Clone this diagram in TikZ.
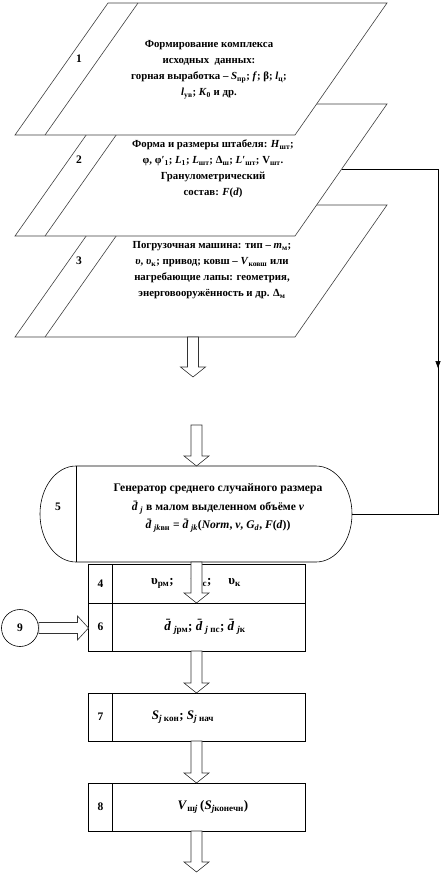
\documentclass[tikz,border=0pt]{standalone}
\usepackage{fontspec}
\setmainfont{Liberation Serif}
\usetikzlibrary{calc,arrows.meta,decorations.markings}

\tikzset{
  para/.style={draw=black!75, fill=white, line width=0.6pt},
  blk/.style={draw, fill=white, line width=0.6pt, minimum width=216.5pt, outer sep=0pt, inner sep=0pt},
  txt/.style={font=\fontsize{10.8}{16}\selectfont\bfseries, align=center, inner sep=0pt},
  numtxt/.style={font=\fontsize{11.5}{13}\selectfont\bfseries, inner sep=0pt},
  fatarrow/.style={draw=black!80, fill=white, line width=0.6pt, line join=miter},
  midtip/.style={postaction={decorate}, decoration={markings,
      mark=at position 0.56 with {\arrow{Triangle[length=7pt,width=5pt]}}}}
}

\newcommand{\sub}[1]{\textsubscript{#1}}
\newcommand{\iv}[1]{\textit{#1}}
\newcommand{\dbar}{\textit{\={d}}}

% hollow arrow, straight down from #1 to #2
\newcommand{\fatdown}[2]{%
  \draw[fatarrow] let \p1=(#1), \p2=(#2) in
    (\x1-5.5pt,\y1) -- (\x1-5.5pt,\y2+10pt) -- (\x1-12.5pt,\y2+10pt) -- (\x1,\y2)
    -- (\x1+12.5pt,\y2+10pt) -- (\x1+5.5pt,\y2+10pt) -- (\x1+5.5pt,\y1) -- cycle;}
% hollow arrow, straight right from #1 to #2
\newcommand{\fatright}[2]{%
  \draw[fatarrow] let \p1=(#1), \p2=(#2) in
    (\x1,\y1+5.5pt) -- (\x2-11pt,\y1+5.5pt) -- (\x2-11pt,\y1+12pt) -- (\x2,\y1)
    -- (\x2-11pt,\y1-12pt) -- (\x2-11pt,\y1-5.5pt) -- (\x1,\y1-5.5pt) -- cycle;}
% numbered block: name, centre y, height, number, text x, text
\newcommand{\numblock}[6]{%
  \node[blk, minimum height=#3] (#1) at (196.75,#2) {};
  \draw[line width=0.6pt] ([xshift=24pt]#1.north west) -- ([xshift=24pt]#1.south west);
  \node[numtxt] at ([xshift=12pt]#1.west) {#4};
  \node[txt, font=\fontsize{13}{15}\selectfont\bfseries] (#1t) at (#5,#2) {#6};}

\begin{document}
\begin{tikzpicture}[x=1pt, y=-1pt]
\useasboundingbox (0,0) rectangle (445,873);

% --- Input data (parallelograms, back to front) ---
\foreach \T/\n in {205/3, 104/2, 3/1}
{
    \draw[para] (108,\T) -- (387,\T) -- (295,\T+132) -- (15,\T+132) -- cycle;
    \draw[draw=black!75, line width=0.6pt] (138,\T) -- (45,\T+132);
    \node[numtxt] (n\n) at (79,\T+56) {\n};
}
\coordinate (p2r) at (342,169);
\coordinate (p3s) at (193,337);

\node[txt] (t1) at (209,70) {Формирование комплекса\\
    исходных\ \ данных:\\
    горная выработка -- \iv{S}\sub{пр}; \iv{f}; β; \iv{l}\sub{ц};\\
    \iv{l}\sub{ув}; \iv{K}\sub{0} и др.};
\node[txt] (t2) at (213,169) {Форма и размеры штабеля: \iv{H}\sub{шт};\\
    φ, φ′\sub{1}; \iv{L}\sub{1}; \iv{L}\sub{шт}; Δ\sub{ш}; \iv{L}′\sub{шт}; V\sub{шт}.\\
    Гранулометрический\\
    состав: \iv{F}(\iv{d})};
\node[txt] (t3) at (212,270) {Погрузочная машина: тип -- \iv{m}\sub{м};\\
    \iv{υ}, \iv{υ}\sub{к}; привод; ковш -- \iv{V}\sub{ковш} или\\
    нагребающие лапы: геометрия,\\
    энерговооружённость и др. Δ\sub{м}};

% --- Generator (terminal 5) ---
\node[minimum width=312pt, minimum height=96pt, inner sep=0pt, outer sep=0pt] (gen) at (196,514) {};
\draw[line width=0.6pt, fill=white] (76,466) -- (316,466)
    arc[start angle=90, end angle=-90, x radius=36pt, y radius=48pt] -- (76,562)
    arc[start angle=270, end angle=90, x radius=36pt, y radius=48pt] -- cycle;
\draw[line width=0.6pt] (76,466) -- (76,562);
\node[numtxt] (n5) at (58,507) {5};
\node[txt, font=\fontsize{11.6}{18.5}\selectfont\bfseries] (t5) at (218,508)
    {Генератор среднего случайного размера\\
    \dbar\sub{\iv{j}} в малом выделенном объёме \iv{ν}\\
    \dbar\sub{\iv{jk}вн} = \dbar\sub{\iv{jk}}(\iv{Norm}, \iv{ν}, \iv{G}\sub{\iv{d}}, \iv{F}(\iv{d}))};

% link 2 -> 5
\draw[line width=0.6pt, midtip] (p2r) -- (438,169) -- (438,514) -- (gen.east);

% --- Blocks 4, 6, 7, 8 ---
\numblock{b4}{583.5}{39pt}{4}{196}{υ\sub{рм};\hspace{1.3em}υ\sub{пс};\hspace{1.3em}υ\sub{к}}
\numblock{b6}{627}{48pt}{6}{205}{\dbar\sub{\iv{j}рм}; \dbar\sub{\iv{j} пс}; \dbar\sub{\iv{j}к}}
\numblock{b7}{717}{48pt}{7}{183}{\iv{S}\sub{\iv{j} кон}; \iv{S}\sub{\iv{j} нач}}
\numblock{b8}{807}{48pt}{8}{213}{\iv{V}\sub{ш\iv{j}}\,(\iv{S}\sub{\iv{j}конечн})}

\node[circle, draw, line width=0.6pt, minimum size=37pt, inner sep=0pt, numtxt] (c9) at (20,628) {9};

% --- Hollow arrows ---
\coordinate (a1) at (193,377);
\coordinate (a2) at (196.5,425);
\coordinate (a6) at (200,872);
\fatdown{p3s}{a1}
\fatdown{a2}{gen.north -| a2}
\fatdown{gen.south -| a2}{b6.north -| a2}
\fatdown{b6.south -| a2}{b7.north -| a2}
\fatdown{b7.south -| a2}{b8.north -| a2}
\fatdown{b8.south -| a2}{a6 -| a2}
\fatright{c9.east}{b6.west |- c9}
\end{tikzpicture}
\end{document}
